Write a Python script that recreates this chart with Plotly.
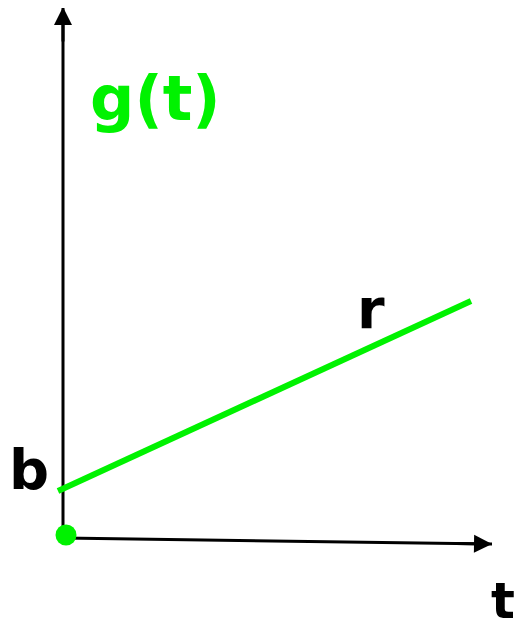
import plotly.graph_objects as go

# Coordinate frame: page pixels, y pointing up (Y = 641 - page_y)
W, H = 524, 641
PAGE_MARGIN = 8  # default body margin of the html page

# axis lines: [tail, tip]
t_axis_x = [63, 492]
t_axis_y = [103, 97]
g_axis_x = [63, 63]
g_axis_y = [101, 634]

# linear function g(t) = b + r t
line_x = [58, 471]
line_y = [150, 340]

# origin dot
dot_x = [66]
dot_y = [106]

# labels
label_text = ["g(t)", "r", "b", "t"]
label_x = [155, 371, 29, 503]
label_y = [543, 333, 172, 40]
label_size = [62, 56, 56, 50]
label_color = ["#00f200", "black", "black", "black"]

GREEN = "#00f200"
HEAD = 18  # arrowhead length

fig = go.Figure()

# axis shafts
for ax_x, ax_y in [(t_axis_x, t_axis_y), (g_axis_x, g_axis_y)]:
    fig.add_trace(go.Scatter(x=ax_x, y=ax_y, mode="lines",
                             line=dict(color="black", width=3), hoverinfo="skip"))

fig.add_trace(go.Scatter(x=line_x, y=line_y, mode="lines",
                         line=dict(color=GREEN, width=6), hoverinfo="skip"))
fig.add_trace(go.Scatter(x=dot_x, y=dot_y, mode="markers",
                         marker=dict(color=GREEN, size=21, line=dict(width=0)),
                         hoverinfo="skip"))

# arrowheads (short annotations at the tips)
for ax_x, ax_y in [(t_axis_x, t_axis_y), (g_axis_x, g_axis_y)]:
    dx = ax_x[1] - ax_x[0]
    dy = ax_y[1] - ax_y[0]
    n = (dx * dx + dy * dy) ** 0.5
    fig.add_annotation(x=ax_x[1], y=ax_y[1],
                       ax=ax_x[1] - dx / n * 2 * HEAD, ay=ax_y[1] - dy / n * 2 * HEAD,
                       xref="x", yref="y", axref="x", ayref="y",
                       showarrow=True, arrowhead=2, arrowsize=1.2,
                       arrowwidth=3, arrowcolor="black", text="")

for txt, x, y, s, c in zip(label_text, label_x, label_y, label_size, label_color):
    fig.add_annotation(x=x, y=y, xref="x", yref="y", text=txt, showarrow=False,
                       font=dict(family="DejaVu Sans", size=s, color=c, weight="bold"))

fig.update_layout(
    width=W - PAGE_MARGIN, height=H - PAGE_MARGIN,
    margin=dict(l=0, r=0, t=0, b=0),
    paper_bgcolor="white", plot_bgcolor="white",
    showlegend=False,
    xaxis=dict(range=[PAGE_MARGIN, W], visible=False, fixedrange=True),
    yaxis=dict(range=[0, H - PAGE_MARGIN], visible=False, fixedrange=True),
)

fig.write_html("out.html")
